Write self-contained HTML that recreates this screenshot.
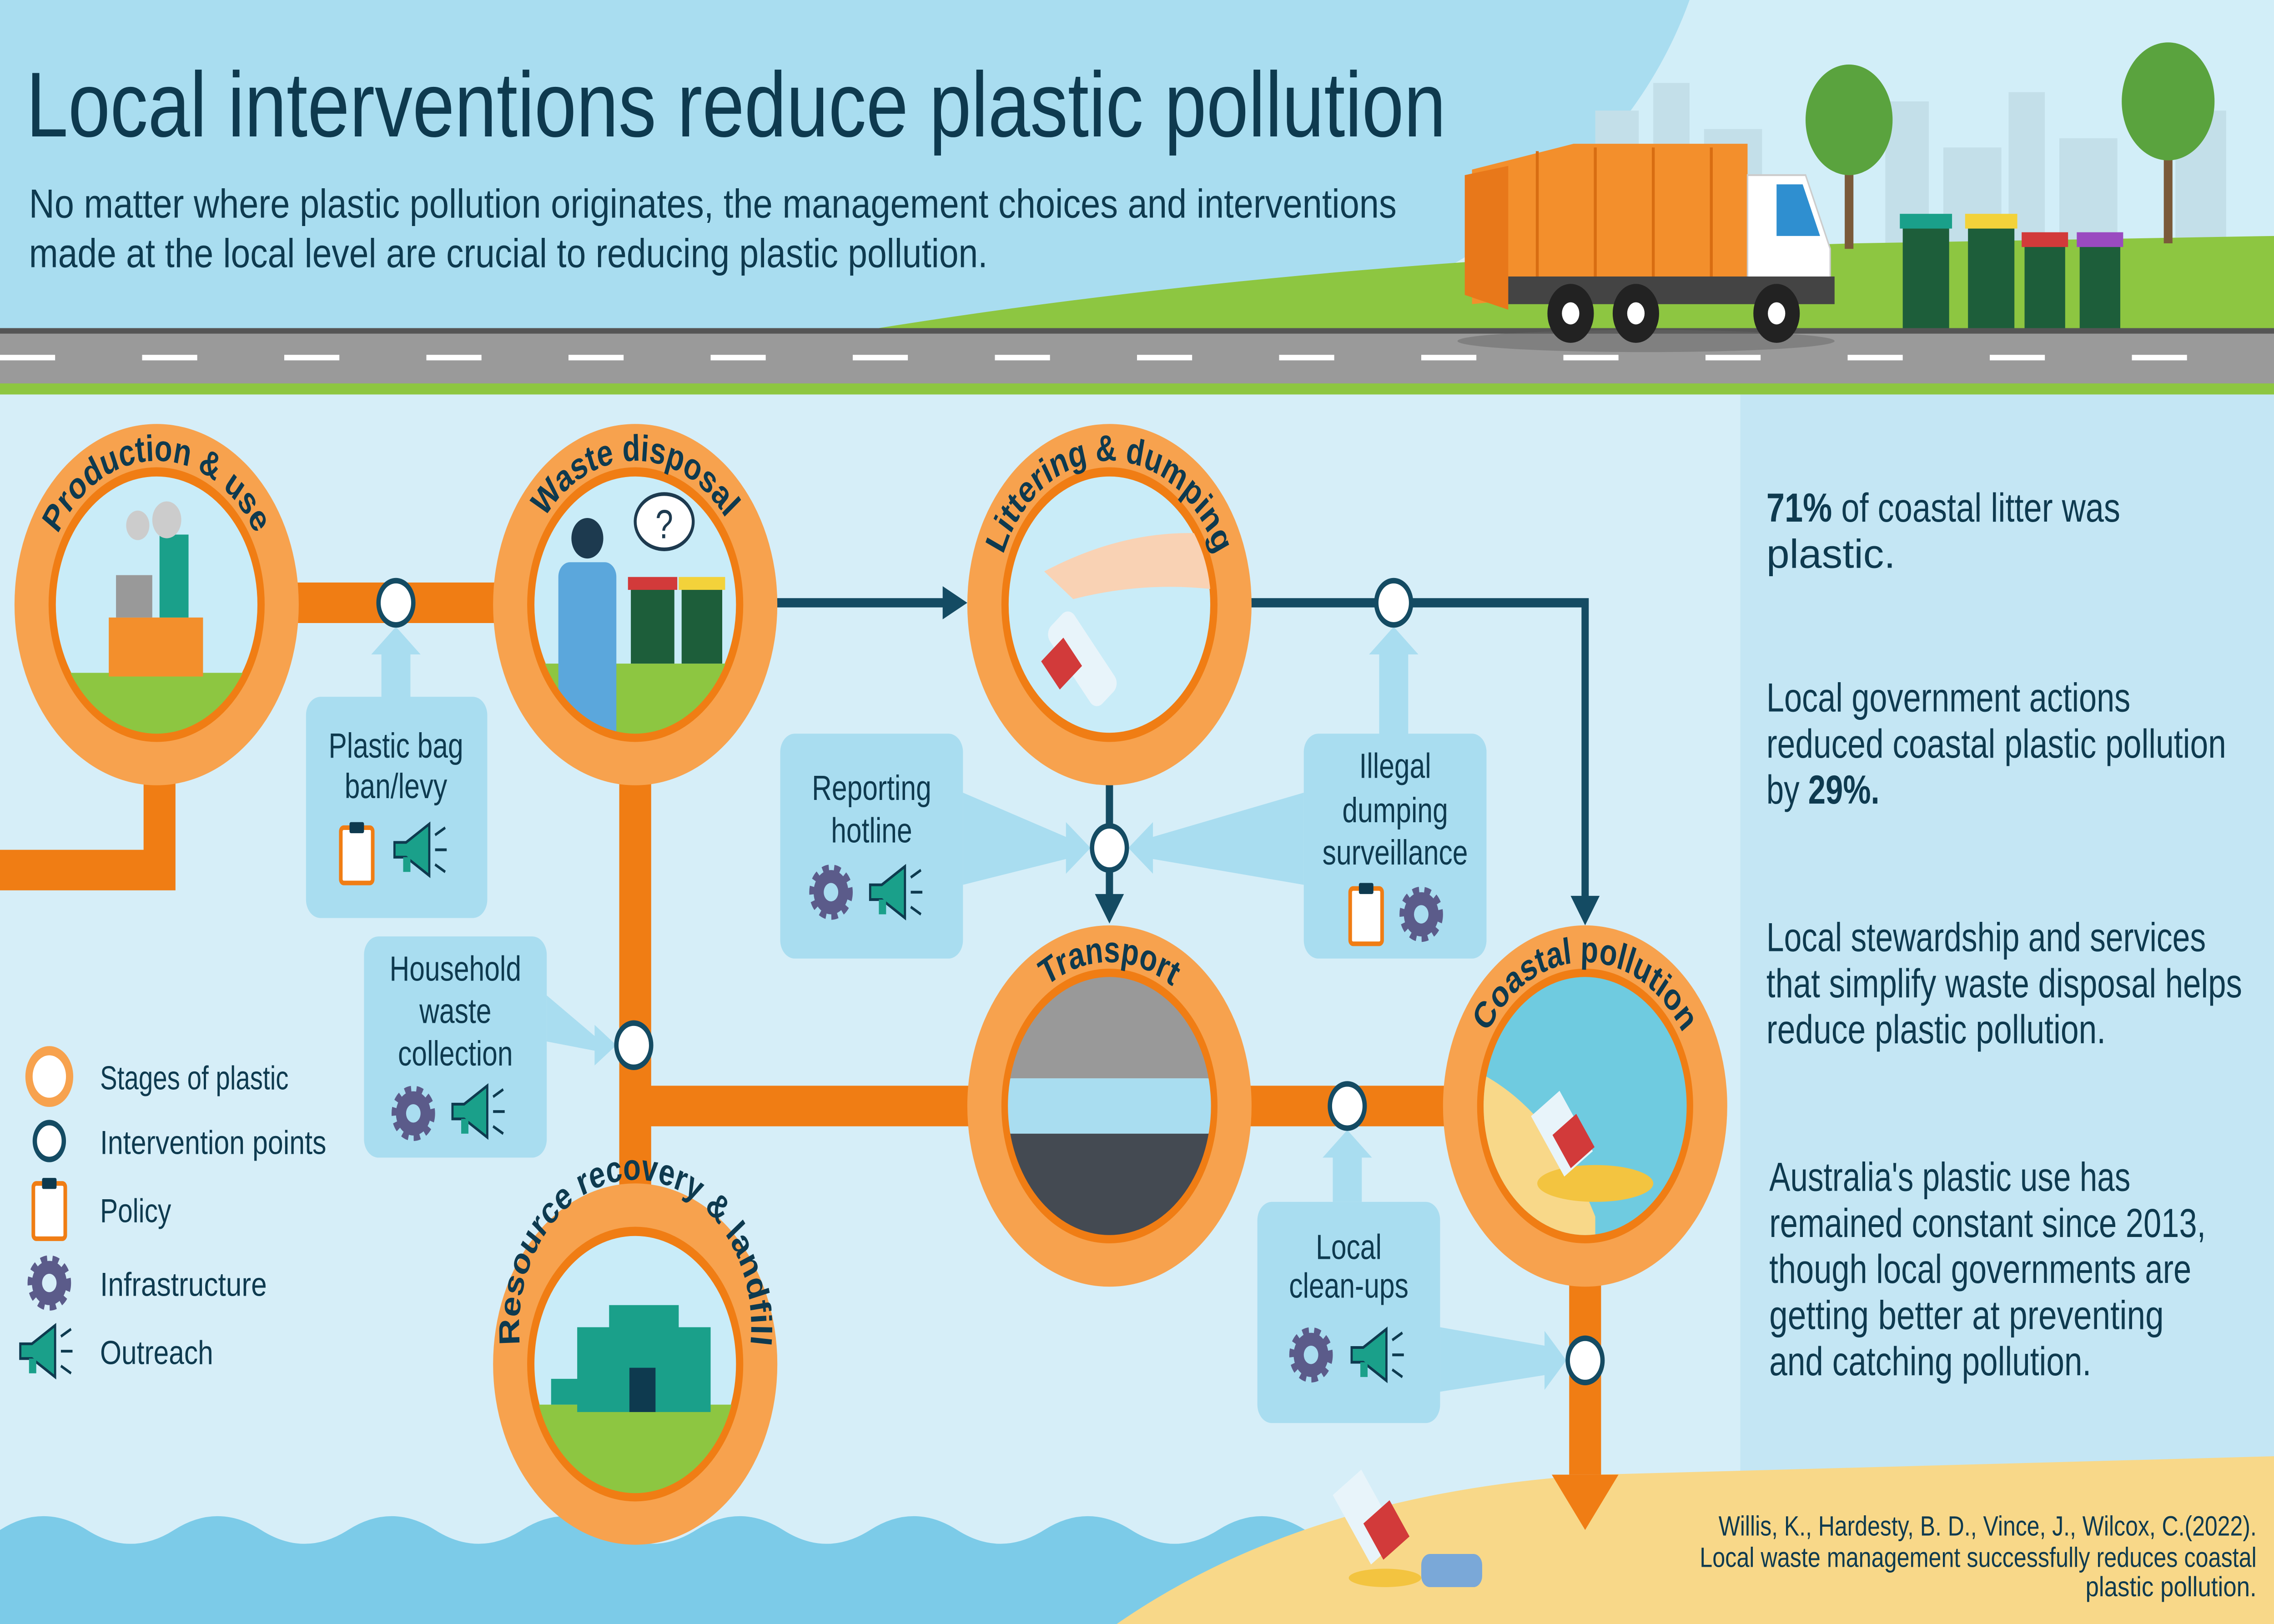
<!DOCTYPE html>
<html><head><meta charset="utf-8"><style>
html,body{margin:0;padding:0;background:#d6eef8;width:100%;height:100%;overflow:hidden;}
svg{display:block;width:100vw;height:100vh;}
text{font-family:"Liberation Sans",sans-serif;}
</style></head><body>
<svg viewBox="0 0 1568 881" preserveAspectRatio="none" xmlns="http://www.w3.org/2000/svg">
<rect x="0" y="0" width="1568" height="881" fill="#d6eef8"/>
<rect x="1200" y="214" width="368" height="667" fill="#c4e6f4"/>
<rect x="0" y="0" width="1568" height="180" fill="#a9ddf0"/>
<path d="M1165 0 Q1110 120 900 180 L1568 180 L1568 0 Z" fill="#d2eef8"/>
<g fill="#c3dfe9">
<rect x="1100" y="60" width="30" height="120"/><rect x="1140" y="45" width="25" height="135"/><rect x="1175" y="70" width="40" height="110"/>
<rect x="1300" y="55" width="30" height="125"/><rect x="1340" y="80" width="40" height="100"/><rect x="1385" y="50" width="25" height="130"/><rect x="1420" y="75" width="40" height="105"/><rect x="1500" y="60" width="35" height="120"/>
</g>
<path d="M590 180 Q900 140 1280 132 L1568 128 L1568 180 Z" fill="#8dc641"/>
<rect x="1272" y="80" width="6" height="55" fill="#7a5a3a"/>
<circle cx="1275" cy="65" r="30" fill="#5aa33e"/>
<rect x="1492" y="70" width="6" height="62" fill="#7a5a3a"/>
<circle cx="1495" cy="55" r="32" fill="#5aa33e"/>
<rect x="0" y="179" width="1568" height="30" fill="#9a9a9a"/>
<rect x="0" y="178" width="1568" height="3" fill="#555"/>
<line x1="0" y1="194" x2="1568" y2="194" stroke="#fff" stroke-width="3" stroke-dasharray="38 60"/>
<rect x="0" y="208" width="1568" height="6" fill="#8dc641"/>
<ellipse cx="1135" cy="185" rx="130" ry="6" fill="#666" opacity="0.5"/>
<path d="M1015 92 L1085 78 L1205 78 L1205 150 L1015 165 Z" fill="#f38f2c"/>
<path d="M1010 95 L1040 90 L1040 168 L1010 160 Z" fill="#e8781a"/>
<g stroke="#d86d12" stroke-width="2"><line x1="1060" y1="82" x2="1060" y2="150"/><line x1="1100" y1="80" x2="1100" y2="150"/><line x1="1140" y1="80" x2="1140" y2="150"/><line x1="1180" y1="80" x2="1180" y2="150"/></g>
<path d="M1205 95 L1245 95 L1262 135 L1262 160 L1205 160 Z" fill="#fff" stroke="#ccc"/>
<path d="M1225 100 L1243 100 L1255 128 L1225 128 Z" fill="#2f8fd0"/>
<rect x="1040" y="150" width="225" height="15" fill="#444"/>
<g fill="#222"><circle cx="1083" cy="170" r="16"/><circle cx="1128" cy="170" r="16"/><circle cx="1225" cy="170" r="16"/></g>
<g fill="#fff"><circle cx="1083" cy="170" r="6"/><circle cx="1128" cy="170" r="6"/><circle cx="1225" cy="170" r="6"/></g>
<g fill="#1d5e3a"><rect x="1312" y="120" width="32" height="58"/><rect x="1357" y="120" width="32" height="58"/><rect x="1396" y="130" width="28" height="48"/><rect x="1434" y="130" width="28" height="48"/></g>
<rect x="1310" y="116" width="36" height="8" fill="#1aa08a"/><rect x="1355" y="116" width="36" height="8" fill="#f3d23a"/><rect x="1394" y="126" width="32" height="8" fill="#d23a3a"/><rect x="1432" y="126" width="32" height="8" fill="#9a4ac0"/>
<text x="18" y="74" font-size="50" fill="#0e3a4f" textLength="979" lengthAdjust="spacingAndGlyphs">Local interventions reduce plastic pollution</text>
<text x="20" y="118" font-size="22" fill="#0e3a4f" textLength="943" lengthAdjust="spacingAndGlyphs">No matter where plastic pollution originates, the management choices and interventions</text>
<text x="20" y="145" font-size="22" fill="#0e3a4f" textLength="661" lengthAdjust="spacingAndGlyphs">made at the local level are crucial to reducing plastic pollution.</text>
<path d="M0 830 Q30 815 60 830 T120 830 T180 830 T240 830 T300 830 T360 830 T420 830 T480 830 T540 830 T600 830 T660 830 T720 830 T780 830 T840 830 T900 830 L900 881 L0 881 Z" fill="#7ccbe8"/>
<path d="M770 881 Q900 810 1100 800 L1568 790 L1568 881 Z" fill="#f8d889"/>
<g stroke="#f07d14" stroke-width="22" fill="none">
<line x1="200" y1="327" x2="350" y2="327"/>
<polyline points="110,420 110,472 0,472"/>
<line x1="438" y1="420" x2="438" y2="650"/>
<line x1="438" y1="600" x2="680" y2="600"/>
<line x1="855" y1="600" x2="1005" y2="600"/>
<line x1="1093" y1="690" x2="1093" y2="800"/>
</g>
<polygon points="1070,800 1116,800 1093,830" fill="#f07d14"/>
<g stroke="#144b63" stroke-width="5" fill="none">
<line x1="535" y1="327" x2="652" y2="327"/>
<polyline points="862,327 1093,327 1093,490"/>
<line x1="765" y1="425" x2="765" y2="488"/>
</g>
<g fill="#144b63">
<polygon points="650,318 667,327 650,336"/>
<polygon points="1083,486 1103,486 1093,502"/>
<polygon points="755,485 775,485 765,501"/>
</g>
<g fill="#a9ddf0">
<polygon points="263,380 283,380 283,355 290,355 273,340 256,355 263,355"/>
<polygon points="377,540 377,565 410,570 410,578 425,567 410,556 410,562"/>
<polygon points="664,430 664,480 735,466 735,474 752,460 735,446 735,454"/>
<polygon points="899,430 899,480 795,466 795,474 778,460 795,446 795,454"/>
<polygon points="951,400 971,400 971,355 978,355 961,340 944,355 951,355"/>
<polygon points="919,652 939,652 939,628 946,628 929,613 912,628 919,628"/>
<polygon points="993,720 993,755 1065,746 1065,754 1080,738 1065,722 1065,730"/>
</g>
<g fill="#a9ddf0">
<rect x="211" y="378" width="125" height="120" rx="10"/>
<rect x="251" y="508" width="126" height="120" rx="10"/>
<rect x="538" y="398" width="126" height="122" rx="10"/>
<rect x="899" y="398" width="126" height="122" rx="10"/>
<rect x="867" y="652" width="126" height="120" rx="10"/>
</g>
<g font-size="19" fill="#0e3a4f" text-anchor="middle">
<text x="273" y="411">Plastic bag</text><text x="273" y="433">ban/levy</text>
<text x="314" y="532">Household</text><text x="314" y="555">waste</text><text x="314" y="578">collection</text>
<text x="601" y="434">Reporting</text><text x="601" y="457">hotline</text>
<text x="962" y="422">Illegal</text><text x="962" y="446">dumping</text><text x="962" y="469">surveillance</text>
<text x="930" y="683">Local</text><text x="930" y="704">clean-ups</text>
</g>
<defs>
<g id="clip"><rect x="-11" y="-14" width="22" height="30" rx="2" fill="#fff" stroke="#f07d14" stroke-width="2.5"/><rect x="-5" y="-17" width="10" height="6" rx="1" fill="#0e3a4f"/></g>
<g id="gear"><circle r="12" fill="#5b5b8a" stroke="#5b5b8a" stroke-width="6" stroke-dasharray="4 3.3"/><circle r="11" fill="#5b5b8a"/><circle r="5" fill="#a9ddf0"/></g>
<g id="horn"><polygon points="-18,-4 -10,-4 6,-14 6,14 -10,4 -18,4" fill="#1aa08a" stroke="#0e3a4f" stroke-width="1.5"/><rect x="-12" y="4" width="5" height="8" fill="#1aa08a"/><g stroke="#0e3a4f" stroke-width="1.5"><line x1="10" y1="-8" x2="17" y2="-12"/><line x1="10" y1="0" x2="18" y2="0"/><line x1="10" y1="8" x2="17" y2="12"/></g></g>
</defs>
<use href="#clip" x="246" y="463"/><use href="#horn" x="290" y="461"/>
<use href="#gear" x="285" y="604"/><use href="#horn" x="330" y="603"/>
<use href="#gear" x="573" y="484"/><use href="#horn" x="618" y="484"/>
<use href="#clip" x="942" y="496"/><use href="#gear" x="980" y="496"/>
<use href="#gear" x="904" y="735"/><use href="#horn" x="950" y="735"/>
<g fill="#f7a24e"><circle cx="108" cy="328" r="98"/><circle cx="438" cy="328" r="98"/><circle cx="765" cy="328" r="98"/><circle cx="765" cy="600" r="98"/><circle cx="1093" cy="600" r="98"/><circle cx="438" cy="740" r="98"/></g>
<g fill="#c9ecf8" stroke="#f07d14" stroke-width="5">
<circle cx="108" cy="328" r="72"/><circle cx="438" cy="328" r="72"/><circle cx="765" cy="328" r="72"/><circle cx="765" cy="600" r="72"/><circle cx="1093" cy="600" r="72"/><circle cx="438" cy="740" r="72"/>
</g>
<clipPath id="c1"><circle cx="108" cy="328" r="70"/></clipPath>
<g clip-path="url(#c1)"><rect x="30" y="365" width="160" height="50" fill="#8dc641"/><rect x="75" y="335" width="65" height="32" fill="#f38f2c"/><rect x="110" y="290" width="20" height="45" fill="#1aa08a"/><rect x="80" y="312" width="25" height="23" fill="#999"/><circle cx="115" cy="282" r="10" fill="#ccc"/><circle cx="95" cy="285" r="8" fill="#ccc"/></g>
<clipPath id="c2"><circle cx="438" cy="328" r="70"/></clipPath>
<g clip-path="url(#c2)"><rect x="360" y="360" width="160" height="50" fill="#8dc641"/><rect x="385" y="305" width="40" height="100" rx="8" fill="#5ba7dc"/><circle cx="405" cy="292" r="11" fill="#1d3a4f"/><rect x="435" y="318" width="30" height="42" fill="#1d5e3a"/><rect x="433" y="313" width="34" height="7" fill="#d23a3a"/><rect x="470" y="318" width="28" height="42" fill="#1d5e3a"/><rect x="468" y="313" width="32" height="7" fill="#f3d23a"/></g>
<ellipse cx="458" cy="283" rx="20" ry="15" fill="#fff" stroke="#1d3a4f" stroke-width="2"/><text x="458" y="292" font-size="22" text-anchor="middle" fill="#1d3a4f">?</text>
<clipPath id="c3"><circle cx="765" cy="328" r="70"/></clipPath>
<g clip-path="url(#c3)"><path d="M720 310 Q780 285 840 290 L840 320 Q790 315 740 325 Z" fill="#f9d2b4"/><rect x="735" y="330" width="22" height="55" rx="6" fill="#e8f4fa" transform="rotate(-40 746 357)"/><rect x="722" y="350" width="20" height="20" fill="#d23a3a" transform="rotate(-40 732 360)"/></g>
<clipPath id="c4"><circle cx="765" cy="600" r="70"/></clipPath>
<g clip-path="url(#c4)"><rect x="690" y="520" width="160" height="65" fill="#999"/><rect x="690" y="585" width="160" height="30" fill="#a9ddf0"/><rect x="690" y="615" width="160" height="60" fill="#444a52"/></g>
<clipPath id="c5"><circle cx="1093" cy="600" r="70"/></clipPath>
<g clip-path="url(#c5)"><rect x="1015" y="525" width="160" height="150" fill="#6fcbe0"/><path d="M1015 580 Q1070 600 1100 660 L1100 680 L1015 680 Z" fill="#f8d889"/><ellipse cx="1100" cy="642" rx="40" ry="10" fill="#f3c440"/><rect x="1065" y="595" width="24" height="40" fill="#e8f4fa" transform="rotate(-35 1077 615)"/><rect x="1075" y="608" width="20" height="22" fill="#d23a3a" transform="rotate(-35 1085 619)"/></g>
<clipPath id="c6"><circle cx="438" cy="740" r="70"/></clipPath>
<g clip-path="url(#c6)"><rect x="360" y="762" width="160" height="60" fill="#8dc641"/><rect x="398" y="720" width="92" height="46" fill="#1aa08a"/><rect x="420" y="708" width="48" height="14" fill="#1aa08a"/><rect x="434" y="742" width="18" height="24" fill="#0e3a4f"/><rect x="380" y="748" width="30" height="14" fill="#1aa08a"/></g>
<defs>
<path id="p1" d="M30 328 A78 78 0 0 1 186 328"/>
<path id="p2" d="M360 328 A78 78 0 0 1 516 328"/>
<path id="p3" d="M687 328 A78 78 0 0 1 843 328"/>
<path id="p4" d="M687 600 A78 78 0 0 1 843 600"/>
<path id="p5" d="M1015 600 A78 78 0 0 1 1171 600"/>
<path id="p6b" d="M362 745 A80 80 0 1 1 514 745"/>
</defs>
<g font-size="20" fill="#0e3a4f" font-weight="bold" text-anchor="middle">
<text><textPath href="#p1" startOffset="50%">Production &amp; use</textPath></text>
<text><textPath href="#p2" startOffset="50%">Waste disposal</textPath></text>
<text><textPath href="#p3" startOffset="50%">Littering &amp; dumping</textPath></text>
<text><textPath href="#p4" startOffset="50%">Transport</textPath></text>
<text><textPath href="#p5" startOffset="50%">Coastal pollution</textPath></text>
<text><textPath href="#p6b" startOffset="50%">Resource recovery &amp; landfill</textPath></text>
</g>
<g fill="#fff" stroke="#144b63" stroke-width="3">
<circle cx="273" cy="327" r="12"/><circle cx="437" cy="567" r="12"/><circle cx="765" cy="460" r="12"/><circle cx="961" cy="327" r="12"/><circle cx="929" cy="600" r="12"/><circle cx="1093" cy="738" r="12"/>
</g>
<circle cx="34" cy="584" r="14" fill="#fff" stroke="#f7a24e" stroke-width="5"/>
<circle cx="34" cy="619" r="10" fill="#fff" stroke="#144b63" stroke-width="3"/>
<use href="#clip" x="34" y="656"/>
<g transform="translate(34 696)"><circle r="12" fill="#5b5b8a" stroke="#5b5b8a" stroke-width="6" stroke-dasharray="4 3.3"/><circle r="5" fill="#d6eef8"/></g>
<use href="#horn" x="32" y="733"/>
<g font-size="18" fill="#0e3a4f" lengthAdjust="spacingAndGlyphs">
<text x="69" y="591" textLength="130" lengthAdjust="spacingAndGlyphs">Stages of plastic</text>
<text x="69" y="626" textLength="156" lengthAdjust="spacingAndGlyphs">Intervention points</text>
<text x="69" y="663" textLength="49" lengthAdjust="spacingAndGlyphs">Policy</text>
<text x="69" y="703" textLength="115" lengthAdjust="spacingAndGlyphs">Infrastructure</text>
<text x="69" y="740" textLength="78" lengthAdjust="spacingAndGlyphs">Outreach</text>
</g>
<g font-size="22" fill="#0e3a4f">
<text x="1218" y="283" textLength="244" lengthAdjust="spacingAndGlyphs"><tspan font-weight="bold">71%</tspan> of coastal litter was</text>
<text x="1218" y="308" textLength="89" lengthAdjust="spacingAndGlyphs">plastic.</text>
<text x="1218" y="386" textLength="251" lengthAdjust="spacingAndGlyphs">Local government actions</text>
<text x="1218" y="411" textLength="317" lengthAdjust="spacingAndGlyphs">reduced coastal plastic pollution</text>
<text x="1218" y="436" textLength="78" lengthAdjust="spacingAndGlyphs">by <tspan font-weight="bold">29%.</tspan></text>
<text x="1218" y="516" textLength="303" lengthAdjust="spacingAndGlyphs">Local stewardship and services</text>
<text x="1218" y="541" textLength="328" lengthAdjust="spacingAndGlyphs">that simplify waste disposal helps</text>
<text x="1218" y="566" textLength="234" lengthAdjust="spacingAndGlyphs">reduce plastic pollution.</text>
<text x="1220" y="646" textLength="249" lengthAdjust="spacingAndGlyphs">Australia's plastic use has</text>
<text x="1220" y="671" textLength="301" lengthAdjust="spacingAndGlyphs">remained constant since 2013,</text>
<text x="1220" y="696" textLength="291" lengthAdjust="spacingAndGlyphs">though local governments are</text>
<text x="1220" y="721" textLength="272" lengthAdjust="spacingAndGlyphs">getting better at preventing</text>
<text x="1220" y="746" textLength="222" lengthAdjust="spacingAndGlyphs">and catching pollution.</text>
</g>
<rect x="930" y="800" width="24" height="46" fill="#e8f4fa" transform="rotate(-35 942 823)"/>
<rect x="945" y="818" width="22" height="24" fill="#d23a3a" transform="rotate(-35 956 830)"/>
<ellipse cx="955" cy="856" rx="25" ry="5" fill="#f3c440"/>
<rect x="980" y="843" width="42" height="18" rx="6" fill="#7aa8d8"/>
<g font-size="15" fill="#0e3a4f">
<text x="1185" y="833" textLength="371" lengthAdjust="spacingAndGlyphs">Willis, K., Hardesty, B. D., Vince, J., Wilcox, C.(2022).</text>
<text x="1172" y="850" textLength="384" lengthAdjust="spacingAndGlyphs">Local waste management successfully reduces coastal</text>
<text x="1438" y="866" textLength="118" lengthAdjust="spacingAndGlyphs">plastic pollution.</text>
</g>
</svg>
</body></html>
